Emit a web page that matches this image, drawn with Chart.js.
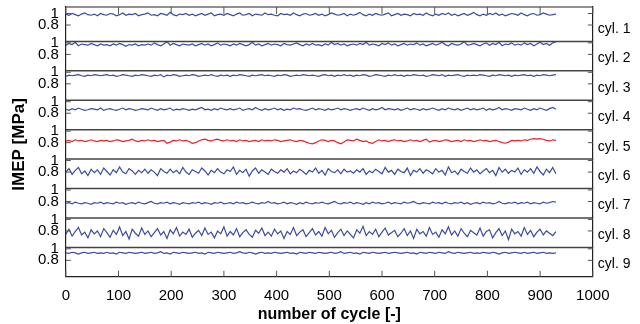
<!DOCTYPE html>
<html>
<head>
<meta charset="utf-8">
<script src="https://cdn.jsdelivr.net/npm/chart.js@4.4.1/dist/chart.umd.min.js"></script>
<style>
  html, body { margin: 0; padding: 0; background: #fff; }
</style>
</head>
<body>
<canvas id="chart" width="640" height="324"></canvas>
<script>
// one point every 6 cycles
const cycleStep = 6;
const xTicks = [0, 100, 200, 300, 400, 500, 600, 700, 800, 900, 1000];
const yTicks = [0.8, 1];
const cylNames = ["cyl. 1", "cyl. 2", "cyl. 3", "cyl. 4", "cyl. 5", "cyl. 6", "cyl. 7", "cyl. 8", "cyl. 9"];

// IMEP [MPa]
const cyl1 = [
  0.99,0.97,1.00,0.98,0.96,0.99,1.01,0.98,0.97,0.99,0.96,1.00,0.98,
  0.97,1.00,0.99,0.96,0.98,1.01,0.97,0.99,0.98,1.00,0.96,0.98,0.99,
  1.01,0.97,0.98,0.96,1.00,0.99,0.97,1.02,0.98,0.96,0.99,0.98,1.00,
  0.97,0.99,0.96,0.98,1.00,0.97,0.99,1.01,0.96,0.98,0.99,0.97,1.00,
  0.98,0.96,0.99,1.01,0.97,0.98,1.00,0.96,0.99,0.98,0.97,1.01,0.98,
  0.99,0.97,0.96,1.00,0.98,0.99,0.97,1.01,0.98,0.96,0.99,1.00,0.97,
  0.98,1.00,0.97,0.99,0.96,0.98,1.01,0.99,0.97,0.98,1.00,0.96,0.99,
  0.97,0.99,1.02,0.98,0.96,0.99,0.97,1.00,0.98,0.97,0.99,1.01,0.96,
  0.98,1.00,0.97,0.99,0.98,0.96,1.00,0.98,0.99,0.97,1.01,0.98,0.96,
  0.99,0.97,1.00,0.98,1.01,0.97,0.99,0.96,0.98,1.00,0.97,0.99,1.02,
  0.98,0.96,0.99,0.97,1.00,0.98,1.01,0.97,0.99,0.96,0.98,1.00,0.99,
  0.97,1.01,0.98,0.96,0.99,1.00,0.97,0.98,1.01,0.99,0.97,0.98,0.99
];
const cyl2 = [
  0.96,0.99,0.97,1.01,0.95,0.98,0.97,0.96,0.99,0.97,0.95,0.98,0.96,
  0.97,0.95,0.98,0.96,0.99,0.97,0.94,0.97,0.96,0.98,0.95,0.97,0.96,
  0.98,0.96,1.00,0.97,0.95,0.98,1.02,0.96,0.99,0.97,0.95,0.98,0.97,
  0.96,0.98,0.95,0.97,0.99,0.96,0.98,0.95,0.97,1.00,0.96,0.98,0.97,
  0.95,0.98,0.96,0.99,0.97,0.95,0.97,1.01,0.96,0.98,0.95,0.97,0.99,
  0.96,0.98,0.97,0.95,0.99,0.97,0.96,0.98,1.00,0.97,0.95,0.98,0.96,
  0.99,0.96,0.97,0.95,0.98,0.96,1.01,0.97,0.99,0.96,0.98,0.95,0.97,
  0.98,0.96,0.99,0.97,1.01,0.96,0.98,0.97,0.95,0.99,0.97,1.00,0.96,
  0.98,0.95,0.97,0.99,0.96,0.98,0.97,1.00,0.96,0.98,0.95,0.97,0.99,
  0.96,0.98,1.01,0.97,0.95,0.99,0.97,0.96,0.98,1.02,0.96,0.97,0.99,
  0.97,0.95,0.98,1.00,0.96,0.99,0.97,1.01,0.95,0.98,0.97,1.00,0.96,
  0.98,0.96,1.00,0.97,0.99,0.95,0.98,1.01,0.97,0.99,0.96,1.00,1.02
];
const cyl3 = [
  0.93,0.95,0.94,0.95,0.96,0.94,0.93,0.95,0.94,0.96,0.95,0.94,0.95,
  0.96,0.94,0.95,0.93,0.94,0.96,0.95,0.94,0.93,0.95,0.94,0.96,0.95,
  0.94,0.93,0.95,0.94,0.96,0.92,0.95,0.94,0.96,0.95,0.93,0.94,0.95,
  0.94,0.96,0.95,0.93,0.94,0.95,0.94,0.96,0.94,0.93,0.95,0.94,0.95,
  0.93,0.95,0.94,0.96,0.95,0.94,0.93,0.95,0.94,0.95,0.96,0.94,0.95,
  0.94,0.93,0.95,0.94,0.96,0.95,0.93,0.94,0.95,0.94,0.96,0.95,0.94,
  0.95,0.94,0.93,0.95,0.96,0.94,0.95,0.93,0.95,0.94,0.96,0.94,0.95,
  0.93,0.95,0.94,0.96,0.95,0.93,0.94,0.96,0.95,0.94,0.93,0.95,0.94,
  0.96,0.94,0.95,0.93,0.95,0.94,0.96,0.95,0.94,0.95,0.93,0.94,0.96,
  0.95,0.94,0.96,0.93,0.95,0.94,0.95,0.96,0.94,0.93,0.95,0.94,0.95,
  0.94,0.96,0.95,0.94,0.93,0.95,0.94,0.96,0.95,0.94,0.95,0.93,0.95,
  0.94,0.95,0.96,0.94,0.95,0.93,0.95,0.94,0.96,0.95,0.94,0.95,0.96
];
const cyl4 = [
  0.87,0.85,0.88,0.86,0.89,0.87,0.85,0.86,0.88,0.87,0.86,0.89,0.85,
  0.87,0.88,0.86,0.85,0.87,0.89,0.86,0.88,0.87,0.85,0.86,0.88,0.87,
  0.86,0.89,0.87,0.85,0.88,0.86,0.87,0.89,0.85,0.87,0.86,0.88,0.87,
  0.85,0.87,0.86,0.88,0.90,0.86,0.87,0.85,0.88,0.86,0.89,0.87,0.86,
  0.88,0.86,0.87,0.89,0.85,0.87,0.88,0.86,0.90,0.87,0.85,0.88,0.86,
  0.87,0.89,0.86,0.88,0.85,0.87,0.86,0.89,0.87,0.88,0.86,0.85,0.87,
  0.89,0.86,0.88,0.87,0.85,0.88,0.86,0.87,0.89,0.86,0.88,0.87,0.85,
  0.87,0.88,0.86,0.89,0.87,0.85,0.88,0.86,0.87,0.90,0.86,0.88,0.87,
  0.86,0.88,0.85,0.87,0.89,0.86,0.88,0.87,0.85,0.88,0.86,0.87,0.89,
  0.87,0.85,0.88,0.86,0.89,0.87,0.86,0.88,0.85,0.87,0.89,0.86,0.88,
  0.86,0.87,0.89,0.85,0.88,0.86,0.87,0.90,0.86,0.88,0.87,0.85,0.88,
  0.87,0.86,0.89,0.87,0.85,0.88,0.86,0.89,0.87,0.85,0.88,0.90,0.87
];
const cyl5 = [
  0.83,0.84,0.82,0.85,0.83,0.84,0.82,0.83,0.85,0.83,0.82,0.84,0.83,
  0.84,0.82,0.83,0.85,0.84,0.82,0.83,0.84,0.86,0.83,0.82,0.84,0.83,
  0.85,0.83,0.84,0.82,0.83,0.84,0.79,0.81,0.84,0.83,0.85,0.83,0.84,
  0.82,0.79,0.80,0.83,0.85,0.86,0.84,0.83,0.85,0.86,0.84,0.83,0.85,
  0.83,0.84,0.82,0.85,0.83,0.84,0.82,0.83,0.84,0.82,0.85,0.83,0.84,
  0.83,0.85,0.84,0.82,0.83,0.84,0.85,0.83,0.82,0.84,0.83,0.81,0.79,
  0.78,0.80,0.83,0.85,0.84,0.82,0.84,0.83,0.80,0.78,0.81,0.85,0.84,
  0.83,0.86,0.84,0.82,0.83,0.80,0.79,0.82,0.85,0.83,0.84,0.82,0.84,
  0.85,0.83,0.84,0.82,0.83,0.85,0.83,0.84,0.82,0.84,0.86,0.81,0.83,
  0.84,0.82,0.83,0.85,0.84,0.82,0.83,0.84,0.82,0.85,0.83,0.84,0.82,
  0.83,0.85,0.83,0.84,0.82,0.83,0.84,0.82,0.80,0.79,0.81,0.84,0.83,
  0.84,0.83,0.85,0.84,0.86,0.87,0.86,0.87,0.86,0.84,0.83,0.85,0.84
];
const cyl6 = [
  0.80,0.86,0.76,0.83,0.88,0.77,0.82,0.74,0.85,0.79,0.84,0.76,0.87,
  0.81,0.75,0.84,0.79,0.89,0.80,0.77,0.86,0.82,0.76,0.83,0.79,0.85,
  0.78,0.84,0.80,0.74,0.86,0.81,0.78,0.85,0.79,0.83,0.77,0.88,0.80,
  0.76,0.84,0.81,0.78,0.87,0.82,0.75,0.83,0.79,0.86,0.80,0.77,0.84,
  0.81,0.89,0.76,0.83,0.79,0.85,0.73,0.82,0.87,0.78,0.84,0.80,0.76,
  0.85,0.81,0.78,0.84,0.80,0.86,0.77,0.82,0.79,0.85,0.81,0.76,0.83,
  0.80,0.87,0.78,0.83,0.75,0.86,0.81,0.79,0.84,0.77,0.85,0.80,0.82,
  0.78,0.84,0.80,0.86,0.76,0.82,0.79,0.85,0.81,0.77,0.88,0.80,0.83,
  0.76,0.85,0.81,0.79,0.87,0.74,0.83,0.80,0.86,0.78,0.84,0.81,0.77,
  0.86,0.80,0.83,0.75,0.89,0.79,0.82,0.76,0.85,0.81,0.78,0.87,0.80,
  0.84,0.77,0.82,0.86,0.79,0.83,0.74,0.88,0.80,0.85,0.78,0.83,0.80,
  0.87,0.76,0.84,0.80,0.86,0.78,0.89,0.81,0.75,0.85,0.79,0.88,0.77
];
const cyl7 = [
  0.77,0.78,0.76,0.79,0.77,0.76,0.78,0.77,0.75,0.78,0.77,0.79,0.76,
  0.78,0.77,0.76,0.79,0.77,0.78,0.75,0.77,0.78,0.76,0.79,0.77,0.76,
  0.78,0.80,0.77,0.76,0.78,0.77,0.79,0.76,0.78,0.77,0.75,0.78,0.77,
  0.76,0.78,0.77,0.79,0.76,0.78,0.77,0.75,0.78,0.77,0.79,0.76,0.77,
  0.78,0.76,0.79,0.77,0.78,0.76,0.77,0.79,0.77,0.76,0.78,0.77,0.80,
  0.77,0.78,0.76,0.77,0.79,0.76,0.78,0.77,0.75,0.78,0.76,0.79,0.77,
  0.76,0.78,0.77,0.79,0.77,0.76,0.78,0.80,0.77,0.76,0.78,0.77,0.79,
  0.76,0.78,0.77,0.75,0.78,0.76,0.79,0.77,0.78,0.76,0.77,0.79,0.76,
  0.78,0.77,0.76,0.79,0.77,0.78,0.80,0.77,0.76,0.78,0.77,0.76,0.79,
  0.77,0.78,0.76,0.79,0.77,0.76,0.78,0.77,0.79,0.76,0.78,0.75,0.77,
  0.78,0.76,0.79,0.77,0.78,0.76,0.77,0.80,0.77,0.76,0.78,0.77,0.79,
  0.76,0.78,0.77,0.79,0.76,0.78,0.77,0.76,0.79,0.77,0.78,0.80,0.79
];
const cyl8 = [
  0.74,0.83,0.71,0.79,0.86,0.73,0.78,0.68,0.82,0.75,0.80,0.70,0.84,
  0.77,0.69,0.81,0.74,0.87,0.72,0.79,0.66,0.83,0.76,0.71,0.85,0.74,
  0.80,0.70,0.77,0.84,0.73,0.79,0.67,0.82,0.75,0.86,0.71,0.78,0.74,
  0.83,0.69,0.76,0.81,0.72,0.85,0.74,0.78,0.68,0.80,0.75,0.87,0.71,
  0.79,0.73,0.84,0.70,0.77,0.82,0.74,0.69,0.81,0.76,0.85,0.72,0.78,
  0.71,0.83,0.75,0.80,0.67,0.79,0.74,0.86,0.72,0.78,0.82,0.70,0.77,
  0.84,0.73,0.79,0.71,0.86,0.75,0.81,0.69,0.77,0.83,0.72,0.80,0.74,
  0.68,0.82,0.76,0.88,0.72,0.79,0.74,0.83,0.70,0.78,0.85,0.73,0.77,
  0.81,0.70,0.76,0.84,0.72,0.80,0.67,0.83,0.75,0.79,0.71,0.86,0.74,
  0.78,0.69,0.82,0.75,0.87,0.73,0.80,0.71,0.84,0.76,0.70,0.81,0.77,
  0.73,0.85,0.71,0.79,0.82,0.68,0.77,0.84,0.72,0.80,0.65,0.83,0.75,
  0.79,0.71,0.86,0.74,0.81,0.70,0.78,0.83,0.73,0.80,0.76,0.72,0.79
];
const cyl9 = [
  0.93,0.92,0.94,0.93,0.91,0.93,0.94,0.92,0.93,0.94,0.92,0.93,0.92,
  0.94,0.92,0.93,0.91,0.94,0.93,0.92,0.94,0.93,0.92,0.93,0.94,0.92,
  0.93,0.94,0.92,0.93,0.95,0.92,0.93,0.91,0.94,0.93,0.92,0.94,0.93,
  0.92,0.93,0.94,0.92,0.93,0.91,0.94,0.93,0.92,0.94,0.93,0.92,0.93,
  0.94,0.92,0.93,0.95,0.93,0.92,0.94,0.93,0.91,0.93,0.94,0.92,0.93,
  0.92,0.94,0.93,0.92,0.93,0.94,0.92,0.93,0.91,0.94,0.93,0.92,0.94,
  0.93,0.92,0.94,0.93,0.92,0.93,0.94,0.92,0.93,0.95,0.92,0.93,0.94,
  0.92,0.93,0.91,0.94,0.93,0.92,0.94,0.93,0.92,0.93,0.94,0.92,0.93,
  0.94,0.93,0.92,0.93,0.94,0.92,0.93,0.91,0.94,0.93,0.92,0.94,0.93,
  0.92,0.94,0.93,0.92,0.95,0.93,0.92,0.94,0.93,0.92,0.93,0.94,0.92,
  0.93,0.92,0.94,0.93,0.92,0.94,0.93,0.91,0.93,0.94,0.92,0.93,0.94,
  0.93,0.92,0.94,0.92,0.93,0.94,0.92,0.93,0.94,0.92,0.93,0.92,0.93
];

const imep = [cyl1, cyl2, cyl3, cyl4, cyl5, cyl6, cyl7, cyl8, cyl9];

const blue = "#3a4d9f";
const red = "#ee2026";
const lineColors = [blue, blue, blue, blue, red, blue, blue, blue, blue];

// every panel shows the same span; the top one is a bit taller
const yMin = 0.515;
const yMax = 1.025;
const yMaxTop = 1.113;
const topWeight = 1.17;
const cylLabelAt = 0.73;

const tickFont = { family: "'Liberation Sans', Arial, sans-serif", size: 15 };
const cylFont = { family: "'Liberation Sans', Arial, sans-serif", size: 14 };
const titleFont = { family: "'Liberation Sans', Arial, sans-serif", weight: "bold" };

const datasets = imep.map((vals, i) => ({
  label: cylNames[i],
  data: vals.map((v, k) => ({ x: k * cycleStep, y: v })),
  xAxisID: "x",
  yAxisID: "y" + (i + 1),
  borderColor: lineColors[i],
  borderWidth: 1.2,
  pointRadius: 0,
  tension: 0,
  fill: false
}));

// labels may hang over the panel edges, don't let them push the plot area around
const noPad = s => {
  s.paddingTop = 0;
  s.paddingBottom = 0;
  s.paddingLeft = 0;
  s.paddingRight = 0;
};

const scales = {
  x: {
    type: "linear",
    position: "bottom",
    min: 0,
    max: 1000,
    afterBuildTicks: s => { s.ticks = xTicks.map(v => ({ value: v })); },
    afterFit: s => { s.height = 47.2; noPad(s); },
    grid: { display: false, drawTicks: false },
    border: { color: "#222", width: 1.2 },
    ticks: { autoSkip: false, maxRotation: 0, padding: 10, color: "#000", font: tickFont, callback: v => String(v) },
    title: { display: true, text: "number of cycle [-]", color: "#000", font: { ...titleFont, size: 16 }, padding: { top: 0, bottom: 0 } }
  }
};

// left stack is laid out last-defined-first, so add the left axes from cyl 9 up
for (let i = imep.length - 1; i >= 0; i--) {
  const isTop = i === 0;
  scales["y" + (i + 1)] = {
    type: "linear",
    position: "left",
    stack: "left",
    stackWeight: isTop ? topWeight : 1,
    min: yMin,
    max: isTop ? yMaxTop : yMax,
    afterBuildTicks: s => { s.ticks = yTicks.map(v => ({ value: v })); },
    afterFit: s => { s.width = 65.8; noPad(s); },
    grid: { display: false, drawTicks: false },
    border: { color: "#222", width: 1.2 },
    ticks: { autoSkip: false, padding: 7, color: "#000", font: tickFont, callback: v => String(v) },
    title: i === 4
      ? { display: true, text: "IMEP [MPa]", color: "#000", font: { ...titleFont, size: 17 }, padding: { top: 9, bottom: 0 } }
      : { display: false }
  };
}

imep.forEach((vals, i) => {
  const isTop = i === 0;
  scales["r" + (i + 1)] = {
    type: "linear",
    position: "right",
    stack: "right",
    stackWeight: isTop ? topWeight : 1,
    min: yMin,
    max: isTop ? yMaxTop : yMax,
    afterBuildTicks: s => { s.ticks = [{ value: cylLabelAt }]; },
    afterFit: s => { s.width = 47.2; noPad(s); },
    grid: { display: false, drawTicks: false },
    border: { color: "#222", width: 1.2 },
    ticks: { autoSkip: false, padding: 5, color: "#000", font: cylFont, callback: () => cylNames[i] }
  };
});

// top edge, panel separators and the short inward tick marks
const framePlugin = {
  id: "frame",
  afterDatasetsDraw(chart) {
    const { ctx, chartArea: a, scales: sc } = chart;
    ctx.save();
    ctx.strokeStyle = "#222";
    ctx.lineWidth = 1.2;
    ctx.beginPath();
    ctx.moveTo(a.left, a.top);
    ctx.lineTo(a.right, a.top);
    ctx.stroke();

    ctx.strokeStyle = "#444";
    ctx.lineWidth = 1.5;
    for (let i = 2; i <= 9; i++) {
      const y = sc["y" + i].top;
      ctx.beginPath();
      ctx.moveTo(a.left, y);
      ctx.lineTo(a.right, y);
      ctx.stroke();
    }

    ctx.strokeStyle = "#555";
    ctx.lineWidth = 1;
    for (let i = 1; i <= 9; i++) {
      const s = sc["y" + i];
      yTicks.forEach(v => {
        const y = s.getPixelForValue(v);
        ctx.beginPath();
        ctx.moveTo(a.left, y);
        ctx.lineTo(a.left + 5, y);
        ctx.moveTo(a.right, y);
        ctx.lineTo(a.right - 5, y);
        ctx.stroke();
      });
    }
    xTicks.forEach(v => {
      const x = sc.x.getPixelForValue(v);
      ctx.beginPath();
      ctx.moveTo(x, a.bottom);
      ctx.lineTo(x, a.bottom - 6);
      ctx.moveTo(x, a.top);
      ctx.lineTo(x, a.top + 7);
      ctx.stroke();
    });
    ctx.restore();
  }
};

new Chart(document.getElementById("chart").getContext("2d"), {
  type: "line",
  data: { datasets },
  options: {
    responsive: false,
    animation: false,
    devicePixelRatio: 1,
    layout: { padding: { top: 7, right: 0, bottom: 0, left: 0 } },
    plugins: { legend: { display: false }, tooltip: { enabled: false } },
    scales
  },
  plugins: [framePlugin]
});
</script>
</body>
</html>
